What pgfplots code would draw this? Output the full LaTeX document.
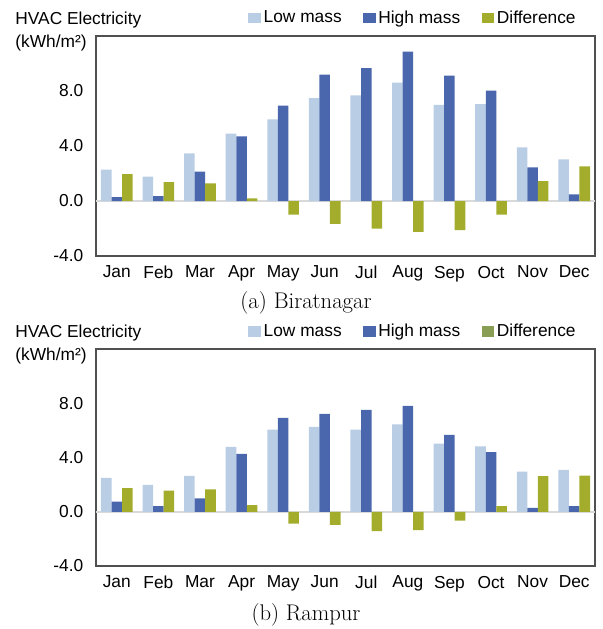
\documentclass[border=0pt]{standalone}
\usepackage{fontspec}
\newfontfamily\arial{Liberation Sans}
\usepackage{pgfplots}
\usepackage{pgfplotstable}
\pgfplotsset{compat=1.18}

\definecolor{lowc}{HTML}{B9CDE5}
\definecolor{highc}{HTML}{4A67AE}
\definecolor{diffc}{HTML}{A3AD2B}
\definecolor{diffleg}{HTML}{8A9D55}
\definecolor{framec}{HTML}{505050}
\definecolor{zeroc}{HTML}{D9D9D9}

% monthly HVAC electricity, kWh/m2
\pgfplotstableread{
m low high diff
0  2.28 0.29  1.96
1  1.77 0.36  1.38
2  3.47 2.13  1.28
3  4.90 4.70  0.19
4  5.94 6.93 -0.99
5  7.49 9.19 -1.67
6  7.68 9.67 -2.01
7  8.61 10.86 -2.25
8  7.00 9.12 -2.11
9  7.05 8.02 -0.99
10 3.90 2.45  1.45
11 3.03 0.48  2.52
}\biratnagar

\pgfplotstableread{
m low high diff
0  2.50 0.75  1.75
1  1.99 0.41  1.55
2  2.64 0.99  1.65
3  4.78 4.27  0.48
4  6.06 6.93 -0.87
5  6.25 7.22 -0.97
6  6.06 7.52 -1.43
7  6.45 7.81 -1.36
8  5.02 5.67 -0.65
9  4.82 4.39  0.41
10 2.96 0.29  2.62
11 3.08 0.41  2.67
}\rampur

\pgfplotsset{
  hvac/.style={
    width=374.25pt, scale only axis,
    xmin=-0.5, xmax=11.5, ymin=-4, ymax=12,
    ybar=0pt, bar width=7.9pt,
    xtick={0,...,11},
    xticklabels={Jan,Feb,Mar,Apr,May,Jun,Jul,Aug,Sep,Oct,Nov,Dec},
    ytick={-4,0,4,8},
    /pgf/number format/assume math mode=true,
    yticklabel style={/pgf/number format/fixed,
      /pgf/number format/fixed zerofill,
      /pgf/number format/precision=1, xshift=-6pt},
    xticklabel style={yshift=-4pt},
    ticklabel style={font=\arial\fontsize{13}{15}\selectfont},
    major tick length=0pt,
    axis line style={framec, line width=0.9pt},
    extra y ticks={0}, extra y tick labels={},
    extra y tick style={grid=major, major grid style={zeroc, line width=1.5pt}},
    ylabel={HVAC Electricity\\(kWh/m²)},
    ylabel style={rotate=-90, align=left, anchor=north west, inner sep=0pt,
      at={(axis description cs:-0.162,1.11)},
      font=\arial\fontsize{13}{17.25}\selectfont},
    legend columns=3,
    legend style={draw=none, fill=none, anchor=east,
      at={(axis description cs:0.975,1.082)},
      font=\arial\fontsize{13}{15}\selectfont,
      /tikz/every even column/.append style={column sep=14pt}},
  },
  sq/.style={legend image code/.code={\fill[#1] (0pt,-4pt) rectangle (9.5pt,4pt);}},
}

\begin{document}
\begin{tikzpicture}
\useasboundingbox (-72pt,-279.75pt) rectangle (380.25pt,192pt);

\begin{axis}[hvac, name=a, at={(0,0)}, anchor=south west, height=165pt]
\addplot[fill=lowc, draw=none, sq=lowc] table[x=m, y=low] {\biratnagar};
\addplot[fill=highc, draw=none, sq=highc] table[x=m, y=high] {\biratnagar};
\addplot[fill=diffc, draw=none, sq=diffc] table[x=m, y=diff] {\biratnagar};
\legend{Low mass, High mass, Difference}
\end{axis}

\begin{axis}[hvac, name=b, at={(0,-232.5pt)}, anchor=south west, height=162.75pt]
\addplot[fill=lowc, draw=none, sq=lowc] table[x=m, y=low] {\rampur};
\addplot[fill=highc, draw=none, sq=highc] table[x=m, y=high] {\rampur};
\addplot[fill=diffc, draw=none, sq=diffleg] table[x=m, y=diff] {\rampur};
\legend{Low mass, High mass, Difference}
\end{axis}

\node[font=\fontsize{17}{20}\selectfont] at ([shift={(157.5pt,-35.25pt)}]a.south west) {(a) Biratnagar};
\node[font=\fontsize{17}{20}\selectfont] at ([shift={(157.5pt,-36.75pt)}]b.south west) {(b) Rampur};
\end{tikzpicture}
\end{document}
